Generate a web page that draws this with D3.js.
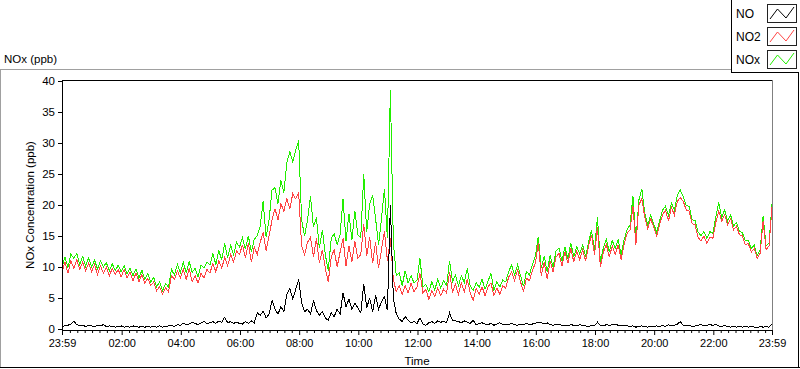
<!DOCTYPE html>
<html><head><meta charset="utf-8">
<script src="https://cdn.jsdelivr.net/npm/d3@7/dist/d3.min.js"></script>
<style>
body{margin:0;background:#fff;}
svg{display:block;font-family:"Liberation Sans",Arial,sans-serif;}
</style></head>
<body><svg id="c" width="800" height="369"></svg>
<script>
// Sampling: one value every 6 minutes from 23:59 (t=0) to 23:59 next day (t=1440)
const sampleStepMinutes = 6;

const NO2 = [
9.2,10.8,9.0,11.0,9.8,11.2,9.6,10.8,9.4,10.6,
9.2,10.4,8.8,10.2,9.0,10.0,8.6,9.8,8.8,9.6,
8.4,9.6,8.2,9.2,7.8,9.0,7.6,8.8,7.4,8.2,
7.0,7.6,6.2,6.8,5.6,6.6,6.0,8.6,8.0,9.4,
8.2,9.6,8.0,9.8,7.6,8.6,7.4,9.0,8.2,9.6,
9.0,10.6,9.2,11.0,9.8,11.6,10.2,12.0,10.8,12.6,
12.0,13.6,11.4,13.8,10.8,13.2,12.0,14.0,15.6,12.6,
15.0,17.6,19.4,17.6,20.2,19.0,21.0,19.4,21.8,21.0,
22.0,13.4,12.0,14.0,14.8,11.6,14.6,10.6,12.8,9.8,
7.6,11.6,12.8,10.0,12.4,14.6,10.2,13.4,10.8,14.2,
11.4,12.0,17.0,11.8,14.8,10.6,14.0,9.8,12.8,15.8,
11.0,14.6,8.0,6.0,7.0,5.6,7.0,5.8,7.4,6.0,
6.8,9.0,5.8,6.4,4.8,6.2,5.2,6.6,5.4,6.4,
5.8,9.2,6.0,7.2,5.6,7.4,6.0,8.0,5.8,4.6,
6.6,5.6,6.8,5.4,6.8,7.4,5.4,6.6,5.6,7.0,
6.6,8.4,9.2,7.8,9.6,7.6,6.0,8.2,7.8,9.4,
10.6,13.8,8.6,10.8,8.0,11.0,9.2,11.6,12.2,10.2,
12.4,10.6,13.0,10.8,12.6,11.2,12.8,11.0,13.4,15.2,
12.0,16.4,10.0,12.4,13.6,11.6,13.4,12.0,13.6,11.2,
13.6,15.4,16.0,19.8,13.6,20.0,21.0,18.0,16.2,17.8,
16.4,15.0,16.8,18.4,19.2,17.4,19.6,18.4,20.6,21.2,
20.6,19.2,19.0,17.0,16.8,14.8,14.2,15.0,13.8,14.8,
14.6,17.2,19.0,17.4,18.4,16.8,17.8,16.0,16.6,15.2,
15.0,13.6,13.8,12.4,13.0,11.4,12.2,17.4,12.8,13.4,
19.6];

const NO = [
0.4,0.5,0.6,0.8,1.3,0.7,0.5,0.6,0.4,0.6,
0.5,0.4,0.6,0.5,0.7,0.4,0.5,0.4,0.3,0.4,
0.5,0.3,0.4,0.3,0.5,0.4,0.3,0.4,0.3,0.4,
0.3,0.4,0.3,0.5,0.3,0.4,0.5,0.6,0.4,0.7,
0.6,0.9,0.7,0.8,1.1,0.9,0.7,1.0,1.2,0.9,
1.0,1.2,0.9,1.3,1.1,1.9,1.0,1.2,0.9,1.1,
0.9,0.8,1.2,0.9,1.3,1.0,2.6,2.2,2.9,1.8,
2.4,4.6,3.2,2.4,3.6,2.8,5.6,6.6,4.8,6.4,
8.0,4.2,2.8,3.2,2.4,4.6,3.0,2.2,2.8,1.8,
1.4,2.6,2.0,3.2,2.4,5.8,3.6,4.8,3.2,4.2,
3.4,2.6,7.2,3.4,5.0,2.8,5.4,3.2,4.4,5.2,
3.0,20.0,5.0,2.4,1.6,1.2,2.0,1.4,1.0,1.2,
0.9,1.8,0.8,0.6,1.0,1.2,0.9,1.3,1.1,1.2,
1.0,2.6,1.4,1.3,1.2,1.0,1.3,1.1,0.9,1.4,
0.7,0.9,1.0,0.8,0.7,0.9,0.6,0.8,1.0,0.7,
0.8,0.7,0.9,0.7,0.6,0.8,0.7,0.9,0.7,0.8,
0.9,1.1,1.0,0.8,1.0,0.7,0.6,0.8,0.7,0.6,
0.6,0.5,0.7,0.6,0.5,0.7,0.6,0.5,0.4,0.6,
0.5,1.1,0.6,0.5,0.7,0.6,0.7,0.8,0.6,0.5,
0.6,0.5,0.4,0.5,0.3,0.4,0.5,0.4,0.3,0.4,
0.4,0.5,0.4,0.6,0.4,0.7,0.5,0.6,0.8,1.2,
0.6,0.5,0.6,0.4,0.5,0.6,0.7,0.5,0.6,0.7,
0.6,0.7,0.5,0.4,0.6,0.4,0.3,0.4,0.3,0.4,
0.3,0.4,0.3,0.4,0.3,0.2,0.4,0.3,0.4,0.3,
0.8];

const NOx = [
9.9,11.6,9.9,12.1,11.4,12.2,10.4,11.7,10.1,11.5,
10.0,11.1,9.7,11.0,10.0,10.7,9.4,10.5,9.4,10.3,
9.2,10.2,8.9,9.8,8.6,9.7,8.2,9.5,8.0,8.9,
7.6,8.3,6.8,7.6,6.2,7.3,6.8,9.6,8.7,10.4,
9.1,10.8,9.0,10.9,9.1,9.8,8.4,10.3,9.8,10.8,
10.3,12.1,10.4,12.6,11.2,13.8,11.5,13.5,12.0,14.0,
13.2,14.7,12.9,15.0,12.4,14.5,15.0,16.6,20.6,14.8,
17.6,22.4,22.8,20.2,24.0,22.0,26.8,28.6,27.0,28.8,
30.4,17.6,15.0,17.6,21.4,16.4,18.0,13.0,16.0,12.0,
9.4,14.6,15.4,13.6,15.2,21.0,14.2,18.6,14.4,19.0,
15.2,14.8,25.0,15.6,20.2,21.6,17.8,13.6,17.8,22.6,
14.6,38.6,14.0,8.6,9.0,7.0,9.4,7.4,8.6,7.4,
7.9,11.4,6.8,7.2,6.0,7.6,6.3,8.0,6.6,7.8,
7.0,11.0,7.6,8.7,7.0,8.6,7.5,9.8,6.9,6.2,
7.5,6.7,8.0,6.4,7.7,9.0,6.2,7.6,6.8,7.9,
7.6,9.3,10.3,8.7,10.4,8.6,6.9,9.3,8.7,10.4,
11.7,14.9,9.8,11.8,9.2,11.9,10.0,12.6,13.1,11.0,
13.2,11.3,13.9,11.6,13.3,12.1,13.6,11.7,14.0,15.9,
12.7,18.0,10.8,13.1,14.5,12.4,14.3,13.0,14.4,11.9,
14.4,16.0,16.8,21.4,14.2,20.8,22.6,18.6,16.8,18.4,
17.0,15.6,17.4,19.2,19.8,18.3,20.3,19.2,21.6,22.4,
21.4,19.9,19.8,17.6,17.5,15.6,15.1,15.7,14.6,15.7,
15.4,18.1,20.4,18.0,19.2,17.4,18.4,16.6,17.2,15.8,
15.5,14.2,14.3,13.0,13.5,11.8,12.8,18.2,13.4,13.9,
20.2];

const xTickMinutes = [0,121,241,361,481,601,721,841,961,1081,1201,1321,1440];
const xTickLabels = ["23:59","02:00","04:00","06:00","08:00","10:00","12:00","14:00","16:00","18:00","20:00","22:00","23:59"];
const yTicks = [0,5,10,15,20,25,30,35,40];
const seriesNames = ["NO","NO2","NOx"];
const seriesColors = ["#000000","#ff4444","#22ee00"];

const svg = d3.select("#c");
const L = 62, R = 772, T = 80, B = 330;
const FS = 11;
const x = d3.scaleLinear().domain([0,1440]).range([L,R]);
const y = d3.scaleLinear().domain([0,40]).range([B-1,T+1]);

// outer panel frame
svg.append("line").attr("x1",0.5).attr("x2",0.5).attr("y1",69).attr("y2",368).attr("stroke","#a0a0a0");
svg.append("line").attr("x1",0).attr("x2",731).attr("y1",69.5).attr("y2",69.5).attr("stroke","#a0a0a0");
svg.append("line").attr("x1",0).attr("x2",800).attr("y1",367.5).attr("y2",367.5).attr("stroke","#000");
svg.append("line").attr("x1",798.5).attr("x2",798.5).attr("y1",0).attr("y2",368).attr("stroke","#000");

// panel title
svg.append("text").attr("x",4).attr("y",63).attr("font-size",11.5).attr("fill","#000").text("NOx (ppb)");

// plot frame
svg.append("rect").attr("x",L).attr("y",T).attr("width",R-L).attr("height",B-T).attr("fill","#fff");
svg.append("line").attr("x1",R+0.5).attr("x2",R+0.5).attr("y1",T).attr("y2",B).attr("stroke","#808080");
svg.append("line").attr("x1",L).attr("x2",R).attr("y1",T+0.5).attr("y2",T+0.5).attr("stroke","#000");

// series (green under red under black)
const pts = arr => arr.map((v,i)=>[i*sampleStepMinutes, v]);
const line = d3.line().x(d=>x(d[0])).y(d=>y(d[1]));
const gPlot = svg.append("g");
[[NOx,seriesColors[2]],[NO2,seriesColors[1]],[NO,seriesColors[0]]].forEach(([arr,col])=>{
  gPlot.append("path").attr("d",line(pts(arr))).attr("fill","none")
    .attr("stroke",col).attr("stroke-width",1).attr("shape-rendering","crispEdges");
});

// left axis line & bottom axis line
svg.append("line").attr("x1",L+0.5).attr("x2",L+0.5).attr("y1",T).attr("y2",B+1).attr("stroke","#000");
svg.append("line").attr("x1",L).attr("x2",R+1).attr("y1",B+0.5).attr("y2",B+0.5).attr("stroke","#000");

// y axis
const yAx = svg.append("g").attr("transform",`translate(${L},0)`)
  .call(d3.axisLeft(y).tickValues(yTicks).tickSize(4).tickPadding(3).tickFormat(d3.format("d")));
yAx.select(".domain").remove();
yAx.selectAll("text").attr("font-size",11.5).attr("font-family","Liberation Sans, Arial").attr("fill","#000");

// x axis major
const xAx = svg.append("g").attr("transform",`translate(0,${B})`)
  .call(d3.axisBottom(x).tickValues(xTickMinutes).tickSize(5).tickPadding(4).tickFormat((d,i)=>xTickLabels[i]));
xAx.select(".domain").remove();
xAx.selectAll("text").attr("font-size",FS).attr("font-family","Liberation Sans, Arial").attr("fill","#000");
// x axis minor (quarter hours)
const minor = d3.range(16,1440,15).filter(m=>xTickMinutes.every(t=>Math.abs(t-m)>3));
const xMin = svg.append("g").attr("transform",`translate(0,${B})`)
  .call(d3.axisBottom(x).tickValues(minor).tickSize(3).tickFormat(""));
xMin.select(".domain").remove();

// axis titles
svg.append("text").attr("x",(L+R)/2).attr("y",365).attr("text-anchor","middle")
  .attr("font-size",11.5).text("Time");
svg.append("text").attr("transform",`translate(34,${(T+B)/2}) rotate(-90)`)
  .attr("text-anchor","middle").attr("font-size",11.5).text("NOx Concentration (ppb)");

// legend
const lg = svg.append("g");
lg.append("rect").attr("x",731).attr("y",-1).attr("width",68).attr("height",73).attr("fill","#fff");
lg.append("line").attr("x1",731.5).attr("x2",731.5).attr("y1",0).attr("y2",73).attr("stroke","#000");
lg.append("line").attr("x1",731).attr("x2",799).attr("y1",72.5).attr("y2",72.5).attr("stroke","#000");
const lgY = d3.scaleBand().domain(seriesNames).range([2,71]);
seriesNames.forEach((n,i)=>{
  const yy = lgY(n);
  lg.append("text").attr("x",736).attr("y",yy+16).attr("font-size",12).text(n);
  lg.append("rect").attr("x",767.5).attr("y",yy+2.5).attr("width",29).attr("height",18)
    .attr("fill","#fff").attr("stroke","#222");
  const zz = [[770,yy+17],[777.5,yy+7],[786,yy+16],[794,yy+5]];
  lg.append("path").attr("d",d3.line()(zz)).attr("fill","none").attr("stroke",seriesColors[i]);
});
</script></body></html>
